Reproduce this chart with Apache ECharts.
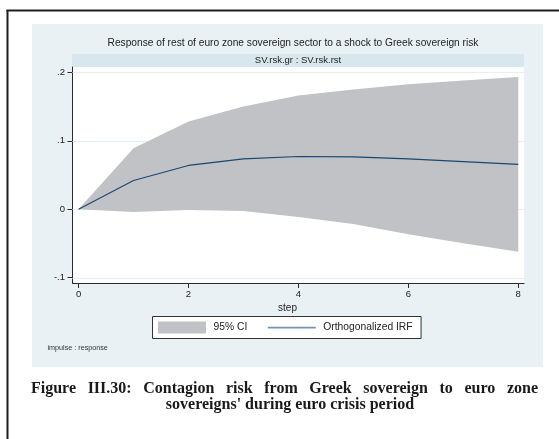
<!DOCTYPE html>
<html>
<head>
<meta charset="utf-8">
<script src="https://cdn.jsdelivr.net/npm/echarts@6/dist/echarts.min.js"></script>
<style>
html,body{margin:0;padding:0;background:#fff;}
#chart{width:559px;height:439px;}
</style>
</head>
<body>
<div id="chart"></div>
<script>
// ---- data ----
const steps = [0, 1, 2, 3, 4, 5, 6, 7, 8];
const irf = [0, 0.042, 0.064, 0.0735, 0.077, 0.0765, 0.0735, 0.0695, 0.0655];
const ciUpper = [0, 0.089, 0.128, 0.150, 0.166, 0.175, 0.1825, 0.188, 0.193];
const ciLower = [0, -0.004, -0.001, -0.0025, -0.0115, -0.0215, -0.0365, -0.0495, -0.062];
const xTicks = [0, 2, 4, 6, 8];
const yTicks = [-0.1, 0, 0.1, 0.2];
const yTickLabels = ['-.1', '0', '.1', '.2'];

const titleText = 'Response of rest of euro zone sovereign sector to a shock to Greek sovereign risk';
const stripText = 'SV.rsk.gr : SV.rsk.rst';
const xTitle = 'step';
const noteText = 'impulse : response';
const captionLine1 = 'Figure III.30: Contagion risk from Greek sovereign to euro zone';
const captionLine2 = "sovereigns' during euro crisis period";

const bandColor = '#c1c2c6';
const lineColor = '#1a476f';
const gridColor = '#e6eff3';
const axisColor = '#2a2a2a';
const font = '"Liberation Sans", Arial, sans-serif';
const serif = '"Liberation Serif", "Times New Roman", serif';
const capSize = 16;

const chart = echarts.init(document.getElementById('chart'), null, {renderer: 'canvas'});

function yLabel(v) {
  for (let i = 0; i < yTicks.length; i++) {
    if (Math.abs(yTicks[i] - v) < 1e-9) return yTickLabels[i];
  }
  return '';
}

// justified first caption line (as in the source document)
function justifiedWords(text, x0, x1, y) {
  const c = document.createElement('canvas').getContext('2d');
  c.font = 'bold ' + capSize + 'px ' + serif;
  const words = text.split(' ');
  const widths = words.map(function (w) { return c.measureText(w).width; });
  const total = widths.reduce(function (a, b) { return a + b; }, 0);
  const gap = (x1 - x0 - total) / (words.length - 1);
  const out = [];
  let x = x0;
  words.forEach(function (w, i) {
    out.push({type: 'text', x: x, y: y, style: {text: w, fontSize: capSize, fontWeight: 'bold',
      fontFamily: serif, fill: '#1a1a1a', align: 'left', verticalAlign: 'middle'}});
    x += widths[i] + gap;
  });
  return out;
}

const option = {
  animation: false,
  backgroundColor: '#ffffff',
  grid: {
    left: 72.5, right: 35, top: 67, bottom: 156,
    show: true, backgroundColor: '#ffffff', borderWidth: 0
  },
  xAxis: {
    type: 'value', min: -0.11, max: 8.105,
    axisLine: {show: true, onZero: false, lineStyle: {color: axisColor, width: 1}},
    axisTick: {show: true, customValues: xTicks, length: 5, lineStyle: {color: axisColor}},
    axisLabel: {customValues: xTicks, fontSize: 9.5, color: '#222', margin: 6.5, fontFamily: font},
    splitLine: {show: false}
  },
  yAxis: {
    type: 'value', min: -0.1077, max: 0.2077,
    axisLine: {show: true, onZero: false, lineStyle: {color: axisColor, width: 1}},
    axisTick: {show: true, customValues: yTicks, length: 5, lineStyle: {color: axisColor}},
    axisLabel: {customValues: yTicks, fontSize: 9.5, color: '#222', margin: 7.5, fontFamily: font,
      formatter: yLabel},
    splitLine: {show: false}
  },
  legend: {
    left: 152.5, top: 316.5,
    orient: 'horizontal',
    backgroundColor: '#ffffff',
    borderColor: '#333', borderWidth: 1, borderRadius: 0,
    padding: [5, 8.5, 5, 5.5],
    itemWidth: 48, itemHeight: 12, itemGap: 20.5,
    textStyle: {fontSize: 10.3, color: '#222', fontFamily: font, padding: [0, 0, 0, 2.5]},
    data: [
      {name: '95% CI', icon: 'rect', itemStyle: {color: bandColor}},
      {name: 'Orthogonalized IRF', icon: 'path://M0,0 L0.01,0 M0,5.3 L48,5.3 L48,6.9 L0,6.9 Z M47.99,12 L48,12',
        itemStyle: {color: '#7294b2'}}
    ],
    selectedMode: false
  },
  series: [
    {
      name: '95% CI',
      type: 'custom',
      silent: true,
      clip: false,
      itemStyle: {color: bandColor},
      encode: {x: 0, y: 1},
      data: [[0, 0]],
      renderItem: function (params, api) {
        const cs = params.coordSys;
        const children = [];
        yTicks.forEach(function (v) {
          const p = api.coord([0, v]);
          const yy = Math.round(p[1]) + 0.5;
          children.push({type: 'line', shape: {x1: cs.x, y1: yy, x2: cs.x + cs.width, y2: yy},
            style: {stroke: gridColor, lineWidth: 1}});
        });
        const pts = [];
        for (let i = 0; i < steps.length; i++) pts.push(api.coord([steps[i], ciUpper[i]]));
        for (let i = steps.length - 1; i >= 0; i--) pts.push(api.coord([steps[i], ciLower[i]]));
        children.push({type: 'polygon', shape: {points: pts}, style: {fill: bandColor}});
        return {type: 'group', children: children};
      }
    },
    {
      name: 'Orthogonalized IRF',
      type: 'line',
      data: steps.map(function (s, i) { return [s, irf[i]]; }),
      symbol: 'none',
      lineStyle: {color: lineColor, width: 1.1},
      itemStyle: {color: lineColor},
      z: 5
    }
  ],
  graphic: [
    {type: 'rect', z: -10, shape: {x: 32, y: 24, width: 511, height: 343}, style: {fill: '#e9f1f4'}},
    {type: 'rect', z: -9, shape: {x: 72, y: 54, width: 452, height: 13}, style: {fill: '#d8e6ed'}},
    {type: 'line', z: -8, shape: {x1: 6.5, y1: 10.5, x2: 559, y2: 10.5}, style: {stroke: '#1e1e1e', lineWidth: 2}},
    {type: 'line', z: -8, shape: {x1: 7.5, y1: 10, x2: 7.5, y2: 439}, style: {stroke: '#1e1e1e', lineWidth: 2}},
    {type: 'text', x: 293, y: 43, style: {text: titleText, fontSize: 10.2, fontFamily: font, fill: '#222',
      align: 'center', verticalAlign: 'middle'}},
    {type: 'text', x: 298, y: 60.5, style: {text: stripText, fontSize: 9.5, fontFamily: font, fill: '#222',
      align: 'center', verticalAlign: 'middle'}},
    {type: 'text', x: 287.5, y: 308, style: {text: xTitle, fontSize: 10, fontFamily: font, fill: '#222',
      align: 'center', verticalAlign: 'middle'}},
    {type: 'text', x: 47.5, y: 348.5, style: {text: noteText, fontSize: 7.2, fontFamily: font, fill: '#333',
      align: 'left', verticalAlign: 'middle'}}
  ].concat(justifiedWords(captionLine1, 31, 538, 389)).concat([
    {type: 'text', x: 290, y: 405, style: {text: captionLine2, fontSize: capSize, fontWeight: 'bold',
      fontFamily: serif, fill: '#1a1a1a', align: 'center', verticalAlign: 'middle'}}
  ])
};
chart.setOption(option);
</script>
</body>
</html>
